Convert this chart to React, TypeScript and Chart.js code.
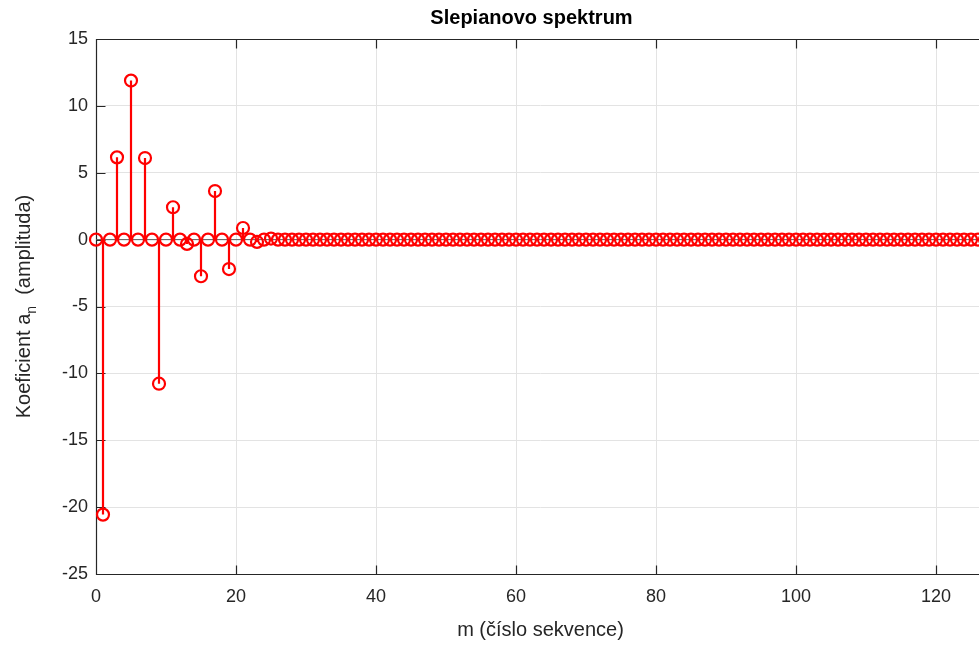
import { useEffect, useRef } from "react";
import { Chart, registerables } from "chart.js";

Chart.register(...registerables);

// sequence numbers m = 0..127
const mIndex: number[] = Array.from({ length: 128 }, (_, i) => i);

// Slepian spectrum coefficients a_n
const coefficients: number[] = [
  0, -20.56, 0, 6.15, 0, 11.89, 0, 6.1, 0, -10.77, 0, 2.42, 0, -0.32, 0, -2.74,
  0, 3.63, 0, -2.2, 0, 0.87, 0, -0.17, 0, 0.08, 0, 0, 0, 0, 0, 0,
  0, 0, 0, 0, 0, 0, 0, 0, 0, 0, 0, 0, 0, 0, 0, 0,
  0, 0, 0, 0, 0, 0, 0, 0, 0, 0, 0, 0, 0, 0, 0, 0,
  0, 0, 0, 0, 0, 0, 0, 0, 0, 0, 0, 0, 0, 0, 0, 0,
  0, 0, 0, 0, 0, 0, 0, 0, 0, 0, 0, 0, 0, 0, 0, 0,
  0, 0, 0, 0, 0, 0, 0, 0, 0, 0, 0, 0, 0, 0, 0, 0,
  0, 0, 0, 0, 0, 0, 0, 0, 0, 0, 0, 0, 0, 0, 0, 0,
];

const xTicks: number[] = [0, 20, 40, 60, 80, 100, 120];
const yTicks: number[] = [-25, -20, -15, -10, -5, 0, 5, 10, 15];

const titleText = "Slepianovo spektrum";
const xLabelText = "m (číslo sekvence)";
const yLabelMain = "Koeficient a";
const yLabelSub = "n";
const yLabelRest = "  (amplituda)";

const FONT = '"Liberation Sans", Arial, Helvetica, sans-serif';
const AXIS_COLOR = "#262626";
const RED = "#ff0000";

const axesPlugin = {
  id: "matlabAxes",
  beforeDatasetsDraw(chart: any) {
    const { ctx, chartArea } = chart;
    const xs = chart.scales.x;
    const ys = chart.scales.y;
    const L = Math.round(chartArea.left) + 0.5;
    const R = Math.round(chartArea.right) + 0.5;
    const T = Math.round(chartArea.top) + 0.5;
    const B = Math.round(chartArea.bottom) + 0.5;
    const tl = 9;
    ctx.save();
    ctx.strokeStyle = AXIS_COLOR;
    ctx.lineWidth = 1.2;
    ctx.beginPath();
    ctx.rect(L, T, R - L, B - T);
    xTicks.forEach((v) => {
      const px = Math.round(xs.getPixelForValue(v)) + 0.5;
      ctx.moveTo(px, B);
      ctx.lineTo(px, B - tl);
      ctx.moveTo(px, T);
      ctx.lineTo(px, T + tl);
    });
    yTicks.forEach((v) => {
      const py = Math.round(ys.getPixelForValue(v)) + 0.5;
      ctx.moveTo(L, py);
      ctx.lineTo(L + tl, py);
    });
    ctx.stroke();
    ctx.restore();
  },
  afterDraw(chart: any) {
    const { ctx, chartArea } = chart;
    const cx = (chartArea.left + chartArea.right) / 2;
    const cy = (chartArea.top + chartArea.bottom) / 2;
    ctx.save();
    // title
    ctx.fillStyle = "#000000";
    ctx.font = `bold 20px ${FONT}`;
    ctx.textAlign = "center";
    ctx.textBaseline = "middle";
    ctx.fillText(titleText, cx - 9, chartArea.top - 21);
    // x label
    ctx.fillStyle = AXIS_COLOR;
    ctx.font = `20px ${FONT}`;
    ctx.fillText(xLabelText, cx, chartArea.bottom + 56);
    // y label with subscript
    ctx.translate(chartArea.left - 73, cy);
    ctx.rotate(-Math.PI / 2);
    ctx.textAlign = "left";
    ctx.textBaseline = "alphabetic";
    ctx.font = `20px ${FONT}`;
    const w1 = ctx.measureText(yLabelMain).width;
    const w3 = ctx.measureText(yLabelRest).width;
    ctx.font = `14px ${FONT}`;
    const w2 = ctx.measureText(yLabelSub).width;
    const total = w1 + w2 + w3;
    let x0 = -total / 2;
    const base = 7;
    ctx.font = `20px ${FONT}`;
    ctx.fillText(yLabelMain, x0, base);
    x0 += w1;
    ctx.font = `14px ${FONT}`;
    ctx.fillText(yLabelSub, x0, base + 6);
    x0 += w2;
    ctx.font = `20px ${FONT}`;
    ctx.fillText(yLabelRest, x0, base);
    ctx.restore();
  },
};

export default function App() {
  const canvasRef = useRef<HTMLCanvasElement | null>(null);

  useEffect(() => {
    if (!canvasRef.current) return;

    const markers = mIndex.map((m, i) => ({ x: m, y: coefficients[i] }));
    const stems: any[] = [];
    mIndex.forEach((m, i) => {
      stems.push({ x: m, y: 0 });
      stems.push({ x: m, y: coefficients[i] });
      stems.push({ x: m, y: null });
    });
    const baseline = [
      { x: mIndex[0], y: 0 },
      { x: mIndex[mIndex.length - 1], y: 0 },
    ];

    const chart = new Chart(canvasRef.current, {
      type: "line",
      data: {
        datasets: [
          {
            data: markers,
            showLine: false,
            pointRadius: 6,
            pointHoverRadius: 6,
            pointBorderWidth: 2.2,
            pointBorderColor: RED,
            pointBackgroundColor: "rgba(0,0,0,0)",
            clip: false as any,
            order: 0,
          },
          {
            data: stems,
            borderColor: RED,
            borderWidth: 2.2,
            pointRadius: 0,
            spanGaps: false,
            clip: false as any,
            order: 1,
          },
          {
            data: baseline,
            borderColor: "#5a5a5a",
            borderWidth: 1,
            pointRadius: 0,
            clip: false as any,
            order: 2,
          },
        ] as any,
      },
      plugins: [axesPlugin],
      options: {
        animation: false,
        responsive: true,
        maintainAspectRatio: false,
        devicePixelRatio: 1,
        layout: { padding: { top: 39, right: 15, bottom: 0, left: 0 } },
        plugins: {
          legend: { display: false },
          tooltip: { enabled: false },
          title: { display: false },
        },
        scales: {
          x: {
            type: "linear",
            min: 0,
            max: 127,
            afterBuildTicks: (scale: any) => {
              scale.ticks = xTicks.map((v) => ({ value: v }));
            },
            afterFit: (scale: any) => {
              scale.height = 71;
            },
            ticks: {
              font: { family: FONT, size: 18 },
              color: AXIS_COLOR,
              padding: 12,
              maxRotation: 0,
              autoSkip: false,
              callback: (v: any) => String(v),
            },
            grid: { color: "#e3e3e3", drawTicks: false, lineWidth: 1 },
            border: { display: false },
          },
          y: {
            type: "linear",
            min: -25,
            max: 15,
            afterBuildTicks: (scale: any) => {
              scale.ticks = yTicks.map((v) => ({ value: v }));
            },
            afterFit: (scale: any) => {
              scale.width = 96;
            },
            ticks: {
              font: { family: FONT, size: 18 },
              color: AXIS_COLOR,
              padding: 8,
              autoSkip: false,
              callback: (v: any) => String(v),
            },
            grid: { color: "#e3e3e3", drawTicks: false, lineWidth: 1 },
            border: { display: false },
          },
        },
      } as any,
    });
    return () => chart.destroy();
  }, []);

  return (
    <div
      style={{
        position: "fixed",
        left: 0,
        top: 0,
        width: 979,
        height: 645,
        overflow: "hidden",
        background: "#ffffff",
      }}
    >
      <div style={{ position: "relative", width: 1000, height: 645 }}>
        <canvas ref={canvasRef} />
      </div>
    </div>
  );
}
